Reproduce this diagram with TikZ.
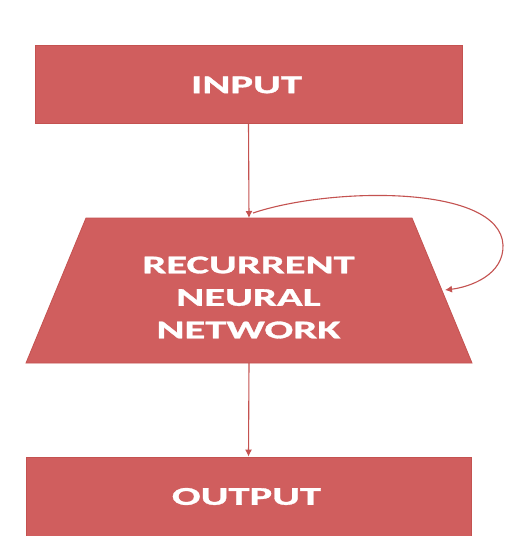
\documentclass[tikz,border=0pt]{standalone}
\usepackage{fontspec}
\newfontfamily\labelfont[FakeStretch=1.67,BoldFeatures={FakeBold=1.2}]{Carlito}
\usetikzlibrary{arrows.meta}
\definecolor{boxred}{RGB}{208,94,94}
\definecolor{edgered}{RGB}{196,82,80}
\tikzset{
  block/.style={draw=edgered, line width=0.8pt, fill=boxred, inner sep=0pt},
  caption/.style={text=white, font=\labelfont\bfseries\fontsize{25.5}{32.5}\selectfont,
    align=center, inner sep=0pt},
  link/.style={draw=edgered, line width=1.1pt, -{Latex[length=7pt,width=7pt]}}
}
\begin{document}
\begin{tikzpicture}[x=1pt,y=-1pt]
  \useasboundingbox[fill=white] (0,0) rectangle (504,536);
  % input layer
  \node[block, minimum width=427pt, minimum height=78pt] (input) at (248.5,84) {};
  \node[caption] (inputlabel) at (246.5,85) {INPUT};
  % recurrent block (trapezoid)
  \coordinate (rnntl) at (86,218);
  \coordinate (rnntr) at (412,218);
  \coordinate (rnnbr) at (472,363);
  \coordinate (rnnbl) at (26,363);
  \coordinate (rnntop) at (249,218);
  \coordinate (rnnbottom) at (249,363);
  \path[block] (rnntl) -- (rnntr) -- (rnnbr) -- (rnnbl) -- cycle;
  \node[caption] (rnnlabel) at (248.5,297.5) {RECURRENT\\NEURAL\\NETWORK};
  % output layer
  \node[block, minimum width=445pt, minimum height=82pt] (output) at (248.5,498) {};
  \node[caption] (outputlabel) at (246.5,496.5) {OUTPUT};
  % forward connections
  \draw[link] (input.south) -- (rnntop);
  \draw[link] (rnnbottom) -- (output.north);
  % recurrent loop back into the block
  \coordinate (loopstart) at (253,213);
  \coordinate (loopend) at (445,290);
  \draw[link] (loopstart) .. controls (330,187) and (500,184) .. (503,245)
              .. controls (504,275) and (470,287) .. (loopend);
\end{tikzpicture}
\end{document}
